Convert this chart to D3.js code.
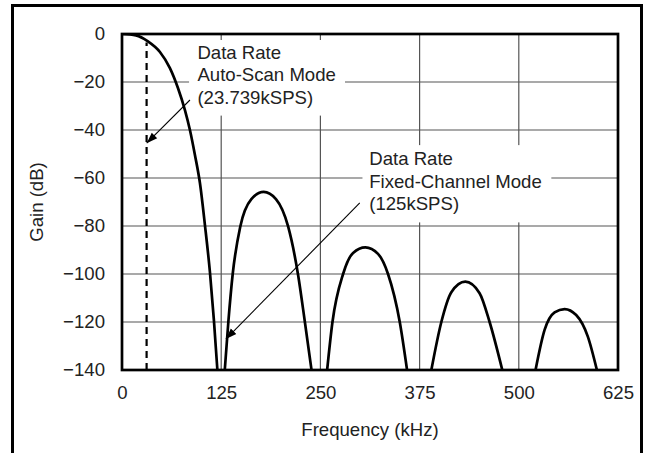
<!DOCTYPE html>
<html>
<head>
<meta charset="utf-8">
<script src="https://cdn.jsdelivr.net/npm/d3@7"></script>
<style>
  body { margin: 0; background: #fff; }
  svg text { font-family: "Liberation Sans", Arial, Helvetica, sans-serif; fill: #222; }
</style>
</head>
<body>
<div id="chart"></div>
<script>
// frequency ticks (kHz) and gain ticks (dB)
const freqTicks = [0, 125, 250, 375, 500, 625];
const gainTicks = [0, -20, -40, -60, -80, -100, -120, -140];

// filter response lobes as [kHz, dB]
const lobe1 = [[0, 0], [17.6, -0.6], [32.7, -3.1], [47.8, -7.5], [60.4, -14.2], [70.5, -22.5],
  [79.3, -31.7], [85.6, -40], [91.9, -50.4], [98.2, -62.1], [104.5, -79.6], [110.8, -99.2],
  [115.8, -119.2], [120.2, -140]];
const lobe2 = [[129.5, -140], [134, -120], [139.5, -100], [149, -80.3], [163, -68.8], [178.5, -65.8],
  [194, -68.8], [209.4, -80.3], [221.9, -100.4], [230.4, -119.9], [238.8, -140]];
const lobe3 = [[258.5, -140], [265.2, -120], [278.6, -100], [291.2, -91.2], [306.7, -88.9],
  [322.6, -91.6], [335.2, -100], [350, -120], [359.2, -140]];
const lobe4 = [[389.8, -140], [402.4, -120], [415, -107.6], [432.6, -103.2], [450.6, -108],
  [463.2, -120], [479.2, -140]];
const lobe5 = [[521.1, -140], [532.5, -123.3], [545.1, -116], [557.7, -114.6], [572.3, -117.1],
  [587, -126.1], [598.4, -140]];

// dashed marker for the auto-scan data rate
const autoScanMarker = [[31, -140], [31, -3.5]];

// annotations: text lines, box corners and arrow tail/tip in data units
const notes = [
  { lines: ["Data Rate", "Auto-Scan Mode", "(23.739kSPS)"],
    box: [84.5, -2.5, 281, -34], text: [95, -10.3], arrow: [[85.6, -27.5], [31.1, -45.5]] },
  { lines: ["Data Rate", "Fixed-Channel Mode", "(125kSPS)"],
    box: [303, -46.3, 541, -78.5], text: [311.5, -54.6], arrow: [[299.6, -70.4], [130.9, -127.1]] }
];

const width = 650, height = 453;
const margin = {left: 122, right: 32, top: 34, bottom: 83};
const fontSize = 18.6;

const svg = d3.select("#chart").append("svg")
    .attr("width", width)
    .attr("height", height);

const x = d3.scaleLinear().domain([0, 625]).range([margin.left, width - margin.right]);
const y = d3.scaleLinear().domain([-140, 0]).range([height - margin.bottom, margin.top]);

// outer frame (bottom edge runs off the picture)
svg.append("rect")
    .attr("x", 12.5).attr("y", 5.5)
    .attr("width", 629).attr("height", 520)
    .attr("fill", "none").attr("stroke", "#000").attr("stroke-width", 3);

svg.append("defs").append("clipPath").attr("id", "plot")
  .append("rect")
    .attr("x", x(0)).attr("y", y(0))
    .attr("width", x(625) - x(0)).attr("height", y(-140) - y(0));

svg.append("marker")
    .attr("id", "head")
    .attr("viewBox", "0 0 10 10")
    .attr("refX", 10).attr("refY", 5)
    .attr("markerWidth", 11).attr("markerHeight", 11)
    .attr("markerUnits", "userSpaceOnUse")
    .attr("orient", "auto")
  .append("path")
    .attr("d", "M0,1.5L10,5L0,8.5Z")
    .attr("fill", "#000");

// grid
const grid = svg.append("g").attr("stroke", "#555").attr("stroke-width", 1.2);
grid.selectAll(".vx")
  .data(freqTicks.slice(1, -1))
  .enter().append("line")
    .attr("x1", d => x(d)).attr("x2", d => x(d))
    .attr("y1", y(0)).attr("y2", y(-140));
grid.selectAll(".hy")
  .data(gainTicks.slice(1, -1))
  .enter().append("line")
    .attr("x1", x(0)).attr("x2", x(625))
    .attr("y1", d => y(d)).attr("y2", d => y(d));

// white boxes behind annotation text
svg.append("g").selectAll("rect")
  .data(notes)
  .enter().append("rect")
    .attr("x", d => x(d.box[0])).attr("y", d => y(d.box[1]))
    .attr("width", d => x(d.box[2]) - x(d.box[0]))
    .attr("height", d => y(d.box[3]) - y(d.box[1]))
    .attr("fill", "#fff");

// axes
const yAxis = svg.append("g")
    .attr("transform", `translate(${x(0)},0)`)
    .call(d3.axisLeft(y).tickValues(gainTicks).tickSize(0).tickPadding(17));
const xAxis = svg.append("g")
    .attr("transform", `translate(0,${y(-140)})`)
    .call(d3.axisBottom(x).tickValues(freqTicks).tickSize(0).tickPadding(16));
[xAxis, yAxis].forEach(a => {
  a.select(".domain").remove();
  a.selectAll("text").attr("font-size", fontSize)
    .attr("font-family", "'Liberation Sans', Arial, sans-serif").attr("fill", "#222");
});

svg.append("text")
    .attr("x", (x(0) + x(625)) / 2).attr("y", 435.5)
    .attr("text-anchor", "middle").attr("font-size", fontSize)
    .text("Frequency (kHz)");
svg.append("text")
    .attr("transform", `translate(43,${(y(0) + y(-140)) / 2}) rotate(-90)`)
    .attr("text-anchor", "middle").attr("font-size", fontSize)
    .text("Gain (dB)");

// curves
const line = d3.line()
    .x(d => x(d[0])).y(d => y(d[1]))
    .curve(d3.curveMonotoneX);

svg.append("g").attr("clip-path", "url(#plot)")
  .selectAll("path")
  .data([lobe1, lobe2, lobe3, lobe4, lobe5])
  .enter().append("path")
    .attr("d", line)
    .attr("fill", "none").attr("stroke", "#000").attr("stroke-width", 2.7);

svg.append("path")
    .attr("d", d3.line().x(d => x(d[0])).y(d => y(d[1]))(autoScanMarker))
    .attr("stroke", "#000").attr("stroke-width", 2.2)
    .attr("stroke-dasharray", "7,5");

// annotation text and arrows
notes.forEach(n => {
  const t = svg.append("text")
      .attr("x", x(n.text[0])).attr("y", y(n.text[1]))
      .attr("font-size", fontSize);
  n.lines.forEach((s, i) => {
    t.append("tspan").attr("x", x(n.text[0])).attr("dy", i ? 22.6 : 0).text(s);
  });
  svg.append("line")
      .attr("x1", x(n.arrow[0][0])).attr("y1", y(n.arrow[0][1]))
      .attr("x2", x(n.arrow[1][0])).attr("y2", y(n.arrow[1][1]))
      .attr("stroke", "#000").attr("stroke-width", 1.1)
      .attr("marker-end", "url(#head)");
});

// plot frame
svg.append("rect")
    .attr("x", x(0)).attr("y", y(0))
    .attr("width", x(625) - x(0)).attr("height", y(-140) - y(0))
    .attr("fill", "none").attr("stroke", "#000").attr("stroke-width", 2.7);
</script>
</body>
</html>
